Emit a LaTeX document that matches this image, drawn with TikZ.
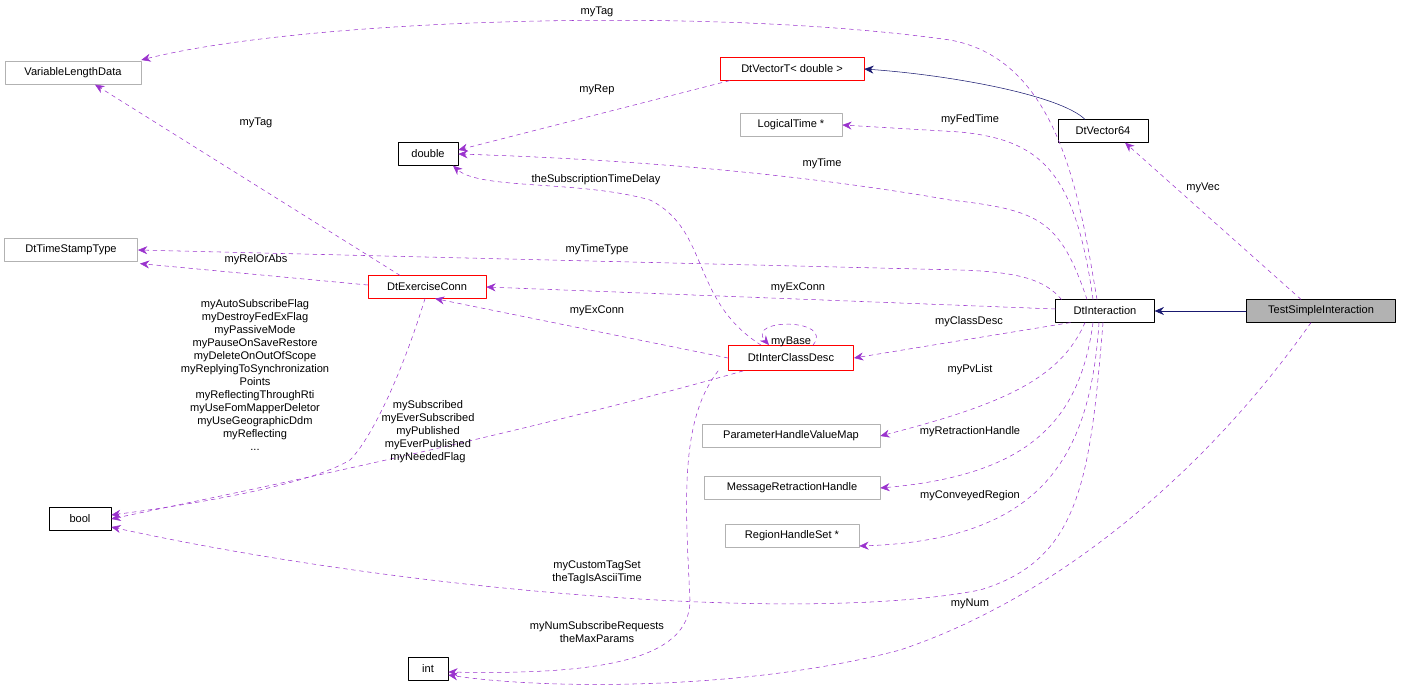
\documentclass[tikz,border=0pt]{standalone}
\usepackage{fontspec}
\setmainfont{Liberation Sans}
\usetikzlibrary{arrows.meta,calc}
\definecolor{memcol}{RGB}{154,50,205}
\definecolor{inhcol}{RGB}{25,25,112}

\tikzset{
  cls/.style={draw=black,fill=white,minimum height=17pt,inner sep=1pt,font=\fontsize{8.3}{9.75}\selectfont},
  ext/.style={cls,draw=black!30},
  red/.style={cls,draw=red},
  uses/.style={dashed,draw=memcol,-{Stealth[length=7pt,width=6pt]}},
  inh/.style={draw=inhcol,-{Stealth[length=7pt,width=6pt]}},
  lbl/.style={font=\fontsize{8.3}{9.75}\selectfont,align=center,inner sep=0pt}
}

\begin{document}
\begin{tikzpicture}[x=0.75pt,y=-0.75pt,line cap=round,line join=round]
  \useasboundingbox (0,0) rectangle (1403,695);
  % classes
  \node[ext,minimum width=102pt] (vld) at (73,73) {VariableLengthData};
  \node[red,minimum width=108pt] (dvt) at (792,69) {DtVectorT< double >};
  \node[cls,minimum width=45pt] (dbl) at (428,154) {double};
  \node[ext,minimum width=76.5pt] (lgt) at (791,125) {LogicalTime *};
  \node[cls,minimum width=67.5pt] (dv64) at (1103,131) {DtVector64};
  \node[ext,minimum width=100pt] (dts) at (71,250) {DtTimeStampType};
  \node[red,minimum width=88.5pt] (dec) at (427,287) {DtExerciseConn};
  \node[cls,minimum width=74pt] (dti) at (1105,311) {DtInteraction};
  \node[cls,fill=black!30,minimum width=112pt] (tsi) at (1321,311) {TestSimpleInteraction};
  \node[red,minimum width=94pt,minimum height=19pt] (dic) at (791,358) {DtInterClassDesc};
  \node[ext,minimum width=133.5pt] (pvl) at (791,436) {ParameterHandleValueMap};
  \node[ext,minimum width=132pt] (mrh) at (792,488) {MessageRetractionHandle};
  \node[ext,minimum width=100.5pt] (rhs) at (792,536) {RegionHandleSet *};
  \node[cls,minimum width=46.5pt] (bool) at (80,519) {bool};
  \node[cls,minimum width=30pt] (int) at (428,669) {int};

  % inheritance
  \draw[inh] (tsi.west) -- (dti.east);
  \draw[inh] ($(dv64.north)+(-18,0)$) .. controls (1060,95) and (950,75) .. (dvt.east);

  % members
  \draw[uses] ($(dti.north)+(-8,0)$) .. controls (1080,200) and (1060,60) .. (950,40)
    .. controls (700,5) and (300,20) .. ($(vld.east)+(0,-13)$);
  \draw[uses] ($(dec.north)+(-27,0)$) -- ($(vld.south)+(22,0)$);
  \draw[uses] ($(dvt.south west)+(10,0)$) -- ($(dbl.east)+(0,-4)$);
  \draw[uses] ($(dti.north)+(-12,0)$) .. controls (1075,170) and (1040,140) .. (960,132) -- (lgt.east);
  \draw[uses] ($(dti.north)+(-18,0)$) .. controls (1060,220) and (1040,210) .. (950,200)
    .. controls (750,165) and (550,157) .. (dbl.east);
  \draw[uses] ($(dic.north)+(-30,0)$) .. controls (690,300) and (710,230) .. (650,200)
    .. controls (580,180) and (480,190) .. ($(dbl.south)+(25,0)$);
  \draw[uses] ($(tsi.north)+(-20,0)$) -- ($(dv64.south)+(22,0)$);
  \draw[uses] ($(dti.north west)+(6,0)$) .. controls (1045,280) and (1020,272) .. (960,270) -- (dts.east);
  \draw[uses] ($(dec.west)+(0,-2)$) -- ($(dts.south east)+(2,2)$);
  \draw[uses] ($(dti.west)+(0,-2)$) -- (dec.east);
  \draw[uses] (dic.west) -- ($(dec.south)+(8,0)$);
  \draw[uses] ($(dic.north)+(22,0)$) .. controls (835,318) and (745,318) .. ($(dic.north)+(-22,0)$);
  \draw[uses] ($(dti.south west)+(15,0)$) -- (dic.east);
  \draw[uses] ($(dti.south)+(-20,0)$) .. controls (1060,380) and (1000,405) .. (pvl.east);
  \draw[uses] ($(dti.south)+(-12,0)$) .. controls (1080,420) and (1030,475) .. (mrh.east);
  \draw[uses] ($(dti.south)+(-6,0)$) .. controls (1090,460) and (1040,540) .. ($(rhs.east)+(0,10)$);
  \draw[uses] ($(dec.south)+(-2,0)$) .. controls (400,380) and (370,440) .. (350,460)
    .. controls (300,490) and (150,510) .. ($(bool.east)+(0,-4)$);
  \draw[uses] ($(dic.south west)+(15,0)$) .. controls (500,440) and (200,500) .. (bool.east);
  \draw[uses] ($(dti.south)+(-2,0)$) .. controls (1090,480) and (1080,560) .. (980,590)
    .. controls (800,625) and (400,590) .. ($(bool.east)+(0,8)$);
  \draw[uses] ($(dic.south west)+(-10,0)$) .. controls (680,420) and (685,500) .. (690,600)
    .. controls (690,660) and (600,675) .. ($(int.east)+(0,3)$);
  \draw[uses] ($(tsi.south)+(-10,0)$) .. controls (1200,480) and (1050,600) .. (900,650)
    .. controls (750,690) and (550,690) .. ($(int.east)+(0,6)$);

  % labels
  \node[lbl] (lTagA) at (597,12) {myTag};
  \node[lbl] (lTagB) at (256,123) {myTag};
  \node[lbl] (lRep) at (597,90) {myRep};
  \node[lbl] (lFed) at (970,120) {myFedTime};
  \node[lbl] (lTime) at (822,164) {myTime};
  \node[lbl] (lSub) at (596,180) {theSubscriptionTimeDelay};
  \node[lbl] (lVec) at (1203,188) {myVec};
  \node[lbl] (lTT) at (597,250) {myTimeType};
  \node[lbl] (lRel) at (256,260) {myRelOrAbs};
  \node[lbl] (lEx) at (798,288) {myExConn};
  \node[lbl] (lExB) at (597,311) {myExConn};
  \node[lbl] (lBase) at (791,342) {myBase};
  \node[lbl] (lCD) at (969,322) {myClassDesc};
  \node[lbl] (lPv) at (970,370) {myPvList};
  \node[lbl] (lRet) at (970,432) {myRetractionHandle};
  \node[lbl] (lConv) at (970,496) {myConveyedRegion};
  \node[lbl] (lFlags) at (255,375) {myAutoSubscribeFlag\\myDestroyFedExFlag\\myPassiveMode\\myPauseOnSaveRestore\\myDeleteOnOutOfScope\\myReplyingToSynchronization\\Points\\myReflectingThroughRti\\myUseFomMapperDeletor\\myUseGeographicDdm\\myReflecting\\...};
  \node[lbl] (lSubs) at (428,432) {mySubscribed\\myEverSubscribed\\myPublished\\myEverPublished\\myNeededFlag};
  \node[lbl] (lCust) at (597,572) {myCustomTagSet\\theTagIsAsciiTime};
  \node[lbl] (lNum) at (597,632) {myNumSubscribeRequests\\theMaxParams};
  \node[lbl] (lMyNum) at (970,604) {myNum};
\end{tikzpicture}
\end{document}
